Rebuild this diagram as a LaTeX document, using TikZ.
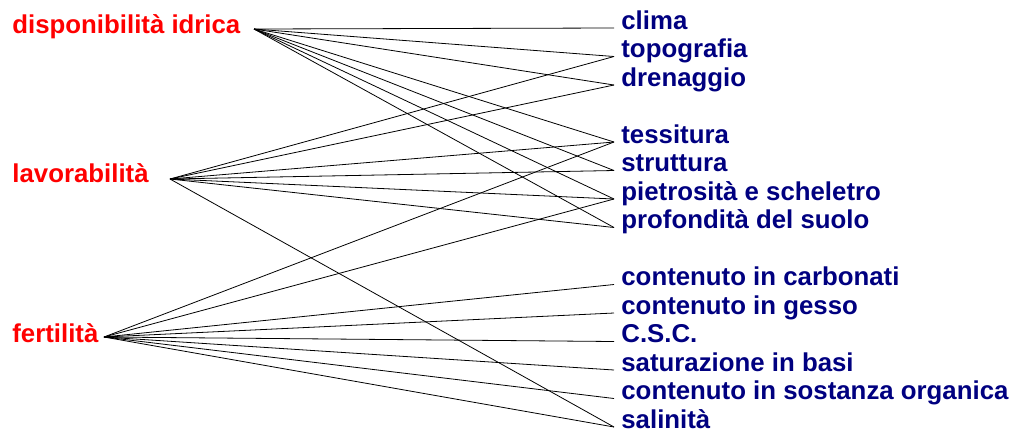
\documentclass[tikz,border=0pt]{standalone}
\usepackage{fontspec}
\setmainfont{Liberation Sans}
\usepackage{tikz}
\definecolor{factred}{HTML}{FF0000}
\definecolor{propnavy}{HTML}{000080}
\tikzset{
    factor/.style={anchor=base west, inner sep=0pt, text=factred,
        font=\fontsize{12.9}{15}\selectfont\bfseries},
    property/.style={anchor=base west, inner ysep=0pt, inner xsep=3.5pt, text=propnavy,
        font=\fontsize{12.9}{15}\selectfont\bfseries},
    link/.style={draw=black, line width=0.4pt}
}

\begin{document}
\begin{tikzpicture}[x=0.5pt, y=-0.5pt]
    \useasboundingbox (0,0) rectangle (1013,436);

    % Factors on the left
    \node[factor] (disp) at (12,33) {disponibilità idrica};
    \node[factor] (lav) at (12,182) {lavorabilità};
    \node[factor] (fert) at (12,342) {fertilità};
    \coordinate (dispA) at (254,29);
    \coordinate (lavA) at (170,179);
    \coordinate (fertA) at (104,337);

    % Soil properties on the right
    \foreach \name/\row/\txt in {clima/0/clima, topo/1/topografia, dren/2/drenaggio,
            tess/4/tessitura, strut/5/struttura, pietr/6/{pietrosità e scheletro},
            prof/7/{profondità del suolo}, carb/9/{contenuto in carbonati},
            gesso/10/{contenuto in gesso}, csc/11/{C.S.C.}, satur/12/{saturazione in basi},
            org/13/{contenuto in sostanza organica}, sal/14/{salinità}} {
        \node[property] (\name) at (614,29+28.5*\row) {\txt};
    }

    % Links
    \foreach \p in {clima, topo, dren, tess, strut, pietr, prof} {
        \draw[link] (dispA) -- ([yshift=0.5pt]\p.base west);
    }
    \foreach \p in {topo, dren, tess, strut, pietr, prof, sal} {
        \draw[link] (lavA) -- ([yshift=0.5pt]\p.base west);
    }
    \foreach \p in {tess, pietr, carb, gesso, csc, satur, org, sal} {
        \draw[link] (fertA) -- ([yshift=0.5pt]\p.base west);
    }
\end{tikzpicture}
\end{document}
